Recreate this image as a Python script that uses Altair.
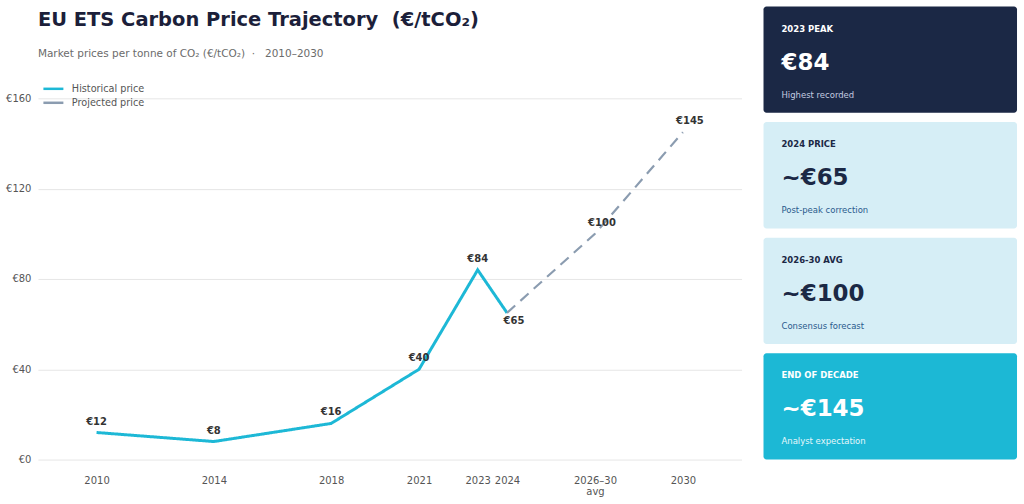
import altair as alt
import pandas as pd

FONT = "DejaVu Sans"
NBSP = "\u00a0"

# Historical EU ETS prices (€/tCO2)
hist_years = [2010, 2014, 2018, 2021, 2023, 2024]
hist_prices = [12, 8, 16, 40, 84, 65]

# Projected path (2027 stands for the 2026–30 average)
proj_years = [2024, 2027, 2030]
proj_prices = [65, 100, 145]

tick_years = [2010, 2014, 2018, 2021, 2023, 2024, 2027, 2030]

# Summary cards
card_keys = ["2023 PEAK", "2024 PRICE", "2026-30 AVG", "END OF DECADE"]
card_values = ["€84", "~€65", "~€100", "~€145"]
card_notes = ["Highest recorded", "Post-peak correction", "Consensus forecast", "Analyst expectation"]
card_fill = ["#1b2845", "#d6eef6", "#d6eef6", "#1cb8d5"]
card_text = ["#ffffff", "#1b2845", "#1b2845", "#ffffff"]
card_note_color = ["#c3cbe0", "#2a5a8c", "#2a5a8c", "#e6f7fb"]

lines = pd.DataFrame(
    {
        "year": hist_years + proj_years,
        "price": hist_prices + proj_prices,
        "series": ["Historical price"] * len(hist_years) + ["Projected price"] * len(proj_years),
    }
)
lines["label"] = ["€" + str(v) for v in lines["price"]]

hist_df = lines[lines["series"] == "Historical price"]
proj_df = lines[lines["series"] == "Projected price"]

series_names = ["Historical price", "Projected price"]

PLOT_H = 362
HEAD_ROOM = 92  # card column reaches this far above the plot

x = alt.X(
    "year:Q",
    scale=alt.Scale(domain=[2008, 2032], nice=False, zero=False),
    axis=alt.Axis(
        values=tick_years,
        labelExpr="datum.value == 2027 ? ['2026–30', 'avg'] : toString(datum.value)",
        grid=False,
        domain=False,
        ticks=False,
        labelOverlap=False,
        labelFlush=False,
        labelPadding=16,
        labelFontSize=10,
        labelLineHeight=11,
        labelColor="#555555",
        labelFont=FONT,
        title=None,
    ),
)
y = alt.Y(
    "price:Q",
    scale=alt.Scale(domain=[0, 160], nice=False),
    axis=alt.Axis(
        values=[0, 40, 80, 120, 160],
        labelExpr="'€' + toString(datum.value)",
        grid=True,
        gridColor="#e6e6e6",
        gridWidth=1,
        domain=False,
        ticks=False,
        labelPadding=7,
        labelFontSize=10,
        labelColor="#555555",
        labelFont=FONT,
        title=None,
    ),
)

line_layer = alt.Chart(lines).mark_line().encode(
    x=x,
    y=y,
    color=alt.Color(
        "series:N",
        scale=alt.Scale(domain=series_names, range=["#1db8d6", "#8b9cb0"]),
        legend=alt.Legend(
            title=None,
            orient="none",
            legendX=7,
            legendY=-18,
            symbolType="M-1.43,0H1.43",
            symbolSize=196,
            symbolStrokeWidth=2.5,
            labelFontSize=9.7,
            labelColor="#555555",
            labelFont=FONT,
            labelOffset=10,
            rowPadding=0,
            padding=0,
        ),
    ),
    strokeDash=alt.StrokeDash(
        "series:N",
        scale=alt.Scale(domain=series_names, range=[[1, 0], [11, 7]]),
        legend=None,
    ),
    strokeWidth=alt.StrokeWidth(
        "series:N",
        scale=alt.Scale(domain=series_names, range=[3, 2.2]),
        legend=None,
    ),
    detail="series:N",
)

label_style = dict(fontWeight="bold", fontSize=10, color="#333333", font=FONT)

hist_above = alt.Chart(hist_df[hist_df["year"] != 2024]).mark_text(dy=-11, **label_style).encode(
    x="year:Q", y="price:Q", text="label:N"
)
low_point = alt.Chart(hist_df[hist_df["year"] == 2024]).mark_text(dx=7, dy=8, **label_style).encode(
    x="year:Q", y="price:Q", text="label:N"
)
proj_above = alt.Chart(proj_df[proj_df["year"] != 2024]).mark_text(dx=7, dy=-11, **label_style).encode(
    x="year:Q", y="price:Q", text="label:N"
)

trend = alt.layer(line_layer, hist_above, low_point, proj_above).properties(
    width=705,
    height=PLOT_H,
    title=alt.TitleParams(
        text="EU ETS Carbon Price Trajectory" + NBSP + " (€/tCO₂)",
        subtitle="Market prices per tonne of CO₂ (€/tCO₂)" + NBSP + " · " + NBSP + " 2010–2030",
        anchor="start",
        frame="group",
        font=FONT,
        fontSize=19.5,
        fontWeight="bold",
        color="#1c1f3a",
        subtitleFont=FONT,
        subtitleFontSize=10.5,
        subtitleColor="#6b6b6b",
        subtitlePadding=18,
        offset=20,
    ),
)

cards = pd.DataFrame(
    {
        "key": card_keys,
        "value": card_values,
        "note": card_notes,
        "fill": card_fill,
        "ink": card_text,
        "note_ink": card_note_color,
    }
)

# Card column runs from the top of the page down to the chart baseline
card_y = alt.Y(
    "key:N",
    sort=card_keys,
    scale=alt.Scale(range=[-HEAD_ROOM, PLOT_H], paddingInner=0.08, paddingOuter=0),
    axis=None,
)

card_rect = alt.Chart(cards).mark_rect(cornerRadius=3).encode(
    x=alt.value(0),
    x2=alt.value(254),
    y=card_y,
    color=alt.Color("fill:N", scale=None),
)
card_head = alt.Chart(cards).mark_text(
    align="left", baseline="middle", dy=-31, fontSize=8.5, fontWeight="bold", font=FONT
).encode(x=alt.value(18), y=card_y, text="key:N", color=alt.Color("ink:N", scale=None))
card_value = alt.Chart(cards).mark_text(
    align="left", baseline="middle", dy=3, fontSize=23, fontWeight="bold", font=FONT
).encode(x=alt.value(18), y=card_y, text="value:N", color=alt.Color("ink:N", scale=None))
card_note = alt.Chart(cards).mark_text(
    align="left", baseline="middle", dy=35, fontSize=8.5, font=FONT
).encode(x=alt.value(18), y=card_y, text="note:N", color=alt.Color("note_ink:N", scale=None))

panel = alt.layer(card_rect, card_head, card_value, card_note).properties(width=254, height=PLOT_H)

chart = (
    alt.hconcat(trend, panel, spacing=22)
    .resolve_scale(color="independent")
    .properties(padding={"left": 5, "top": 6, "right": 7, "bottom": 5}, background="#ffffff")
    .configure_view(stroke=None)
)

chart.save("out.html", embed_options={"renderer": "svg", "actions": False})
